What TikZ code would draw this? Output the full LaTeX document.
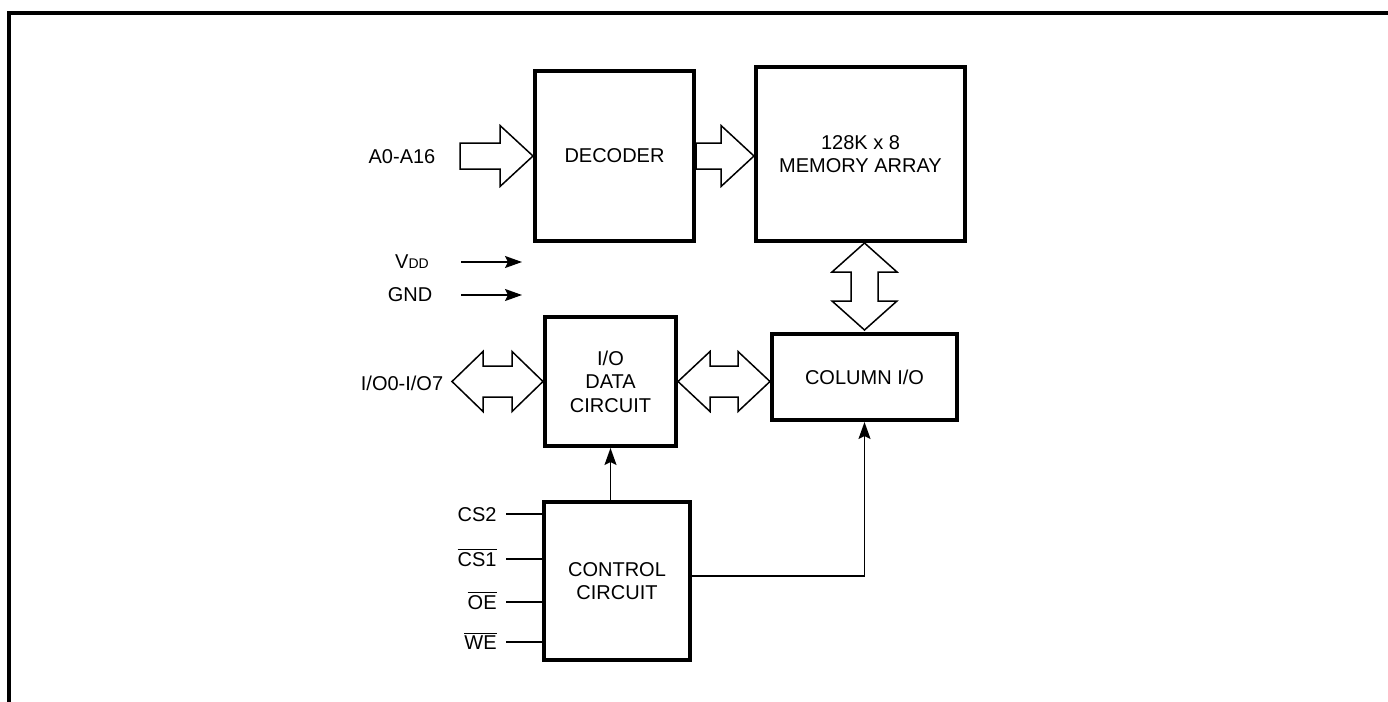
\documentclass[tikz,border=0pt]{standalone}
\usepackage{fontspec}
\setmainfont{Liberation Sans}
\usetikzlibrary{arrows.meta}

\newcommand{\ovl}[1]{$\overline{\mbox{#1}}$}

\begin{document}
\begin{tikzpicture}[x=0.5pt,y=-0.5pt]
\tikzstyle{every node} = [align=center, font=\fontsize{10}{11.75}\selectfont]
\tikzstyle{blk} = [draw, line width=2pt, inner sep=0pt]
\tikzstyle{bus} = [draw, line width=0.75pt, line join=miter, fill=white]
\tikzstyle{sig} = [line width=0.8pt]
\tikzstyle{arr} = [sig, -{Stealth[length=8.5pt,width=6pt,inset=1.5pt]}]
\tikzstyle{pin} = [anchor=east, inner sep=0pt, text height=7.5pt, text depth=0pt]

  \useasboundingbox (0,0) rectangle (1388,702);
  \draw[line width=2pt] (9,702) -- (9,13) -- (1388,13);

  % blocks
  \node[blk, minimum width=79.5pt, minimum height=85pt] (dec) at (614.5,156) {DECODER};
  \node[blk, minimum width=104.5pt, minimum height=87pt] (mem) at (860.5,154) {128K x 8\\MEMORY ARRAY};
  \node[blk, minimum width=65.5pt, minimum height=64.5pt] (iod) at (610.5,381.5) {I/O\\DATA\\CIRCUIT};
  \node[blk, minimum width=92.5pt, minimum height=43pt] (col) at (864.5,377) {COLUMN I/O};
  \node[blk, minimum width=73pt, minimum height=79pt] (ctl) at (617,581) {CONTROL\\CIRCUIT};

  % outside labels
  \node (addr) at (402,157) {A0-A16};
  \node (vdd) at (412,262) {V{\fontsize{7}{8}\selectfont DD}};
  \node (gnd) at (410,295) {GND};
  \node (iol) at (402,383) {I/O0-I/O7};
  \node[pin] (cs2) at (497,514) {CS2};
  \node[pin] (cs1) at (497,559) {\ovl{CS1}};
  \node[pin] (oe) at (497,602) {\ovl{OE}};
  \node[pin] (we) at (497,642) {\ovl{WE}};

  % buses
  \draw[bus] (dec.west) -- ++(-33,-30.5) -- ++(0,17.5) -- ++(-40,0) -- ++(0,26)
    -- ++(40,0) -- ++(0,17.5) -- cycle;
  \draw[bus] (mem.west |- dec.east) -- ++(-33,-30.5) -- ++(0,17.5) -- ++(-25,0) -- ++(0,26)
    -- ++(25,0) -- ++(0,17.5) -- cycle;
  \draw[bus] (iod.west) -- ++(-31,-30) -- ++(0,14.5) -- ++(-29,0) -- ++(0,-14.5) -- ++(-31,30)
    -- ++(31,30) -- ++(0,-14.5) -- ++(29,0) -- ++(0,14.5) -- cycle;
  \draw[bus] (iod.east) -- ++(32,-30) -- ++(0,14.5) -- ++(28,0) -- ++(0,-14.5) -- ++(32,30)
    -- ++(-32,30) -- ++(0,-14.5) -- ++(-28,0) -- ++(0,14.5) -- cycle;
  \draw[bus] (col.north |- mem.south) -- ++(32.5,29) -- ++(-19,0) -- ++(0,29) -- ++(19,0) -- ++(-32.5,29)
    -- ++(-32.5,-29) -- ++(19,0) -- ++(0,-29) -- ++(-19,0) -- cycle;

  % supply
  \coordinate (vddin) at (461,262);
  \coordinate (vddout) at (522,262);
  \coordinate (gndin) at (461,295);
  \coordinate (gndout) at (522,295);
  \draw[arr] (vddin) -- (vddout);
  \draw[arr] (gndin) -- (gndout);

  % control
  \foreach \p in {cs2,cs1,oe,we}
    \draw[sig] ([xshift=4.5pt]\p.east) -- (\p.east -| ctl.west);
  \draw[arr] (iod.south |- ctl.north) -- (iod.south);
  \draw[arr] ([yshift=2.5pt]ctl.east) -| (col.south);
\end{tikzpicture}
\end{document}
